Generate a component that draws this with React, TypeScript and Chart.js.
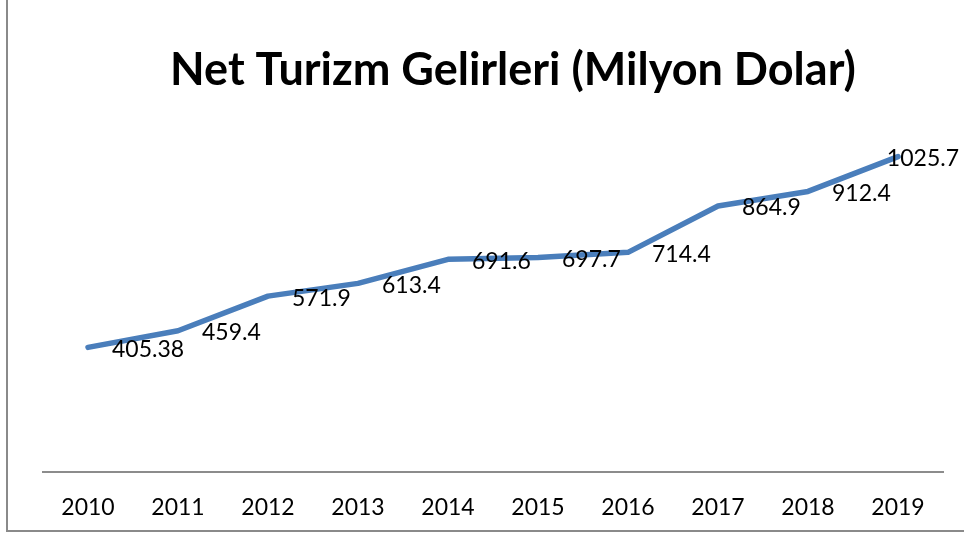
import React, { useEffect, useRef } from "react";
import { Chart, registerables } from "chart.js";

Chart.register(...registerables);

const years = ["2010", "2011", "2012", "2013", "2014", "2015", "2016", "2017", "2018", "2019"];
const revenue = [405.38, 459.4, 571.9, 613.4, 691.6, 697.7, 714.4, 864.9, 912.4, 1025.7];
const titleText = "Net Turizm Gelirleri (Milyon Dolar)";

const FONT = "Lato, 'Open Sans', sans-serif";

const labelPlugin = {
  id: "valueLabels",
  afterDatasetsDraw(chart: any) {
    const ctx = chart.ctx;
    const meta = chart.getDatasetMeta(0);
    const data = chart.data.datasets[0].data as number[];
    ctx.save();
    ctx.font = `23px ${FONT}`;
    ctx.fillStyle = "#000";
    ctx.textAlign = "left";
    ctx.textBaseline = "middle";
    const maxRight = 959;
    meta.data.forEach((pt: any, i: number) => {
      const txt = String(data[i]);
      const w = ctx.measureText(txt).width;
      let x = pt.x + 24;
      if (x + w > maxRight) x = maxRight - w;
      ctx.fillText(txt, x, pt.y + 2);
    });
    ctx.restore();
  },
};

export default function App() {
  const ref = useRef<HTMLCanvasElement>(null);
  useEffect(() => {
    let chart: Chart | null = null;
    let cancelled = false;
    const make = () => {
      if (cancelled || !ref.current) return;
      chart = new Chart(ref.current, {
        type: "line",
        data: {
          labels: years,
          datasets: [
            {
              data: revenue,
              borderColor: "#4a7ebb",
              borderWidth: 5.5,
              borderJoinStyle: "round",
              borderCapStyle: "round",
              pointRadius: 0,
              tension: 0,
              fill: false,
              yAxisID: "y",
            },
          ],
        },
        options: {
          responsive: false,
          animation: false,
          layout: { padding: { left: 0, right: 0, top: 0, bottom: 17 } },
          plugins: {
            legend: { display: false },
            tooltip: { enabled: false },
            title: {
              display: true,
              text: titleText,
              color: "#000",
              font: { family: FONT, size: 45, weight: "bold" },
              padding: { top: 43, bottom: 6 },
            },
          },
          scales: {
            x: {
              offset: true,
              grid: { display: false, drawTicks: false },
              border: { display: true, color: "#8c8c8c", width: 2 },
              ticks: {
                color: "#000",
                font: { family: FONT, size: 23 },
                padding: 22,
                maxRotation: 0,
              },
              afterFit: (s: any) => {
                s.height = 48;
              },
            },
            y: {
              display: true,
              position: "left",
              min: 0,
              max: 1200,
              grid: { display: false, drawTicks: false },
              border: { display: false },
              ticks: { display: false },
              afterFit: (s: any) => {
                s.width = 43;
              },
            },
            yRight: {
              type: "linear",
              display: true,
              position: "right",
              min: 0,
              max: 1200,
              grid: { display: false, drawTicks: false },
              border: { display: false },
              ticks: { display: false },
              afterFit: (s: any) => {
                s.width = 83;
              },
            },
          },
        },
        plugins: [labelPlugin],
      });
    };
    const fontsReady = (document as any).fonts
      ? Promise.all([
          (document as any).fonts.load(`bold 45px Lato`),
          (document as any).fonts.load(`23px Lato`),
        ]).catch(() => null)
      : Promise.resolve(null);
    fontsReady.then(make);
    return () => {
      cancelled = true;
      if (chart) chart.destroy();
    };
  }, []);

  return (
    <div
      style={{
        position: "fixed",
        left: 0,
        top: 0,
        width: 964,
        height: 537,
        overflow: "hidden",
        background: "#fff",
      }}
    >
      <div
        style={{
          position: "absolute",
          left: 6,
          top: -5,
          width: 1200,
          height: 537,
          boxSizing: "border-box",
          border: "2px solid #8a8a8a",
        }}
      />
      <canvas
        ref={ref}
        width={1026}
        height={537}
        style={{ position: "absolute", left: 0, top: 0, width: 1026, height: 537 }}
      />
    </div>
  );
}
